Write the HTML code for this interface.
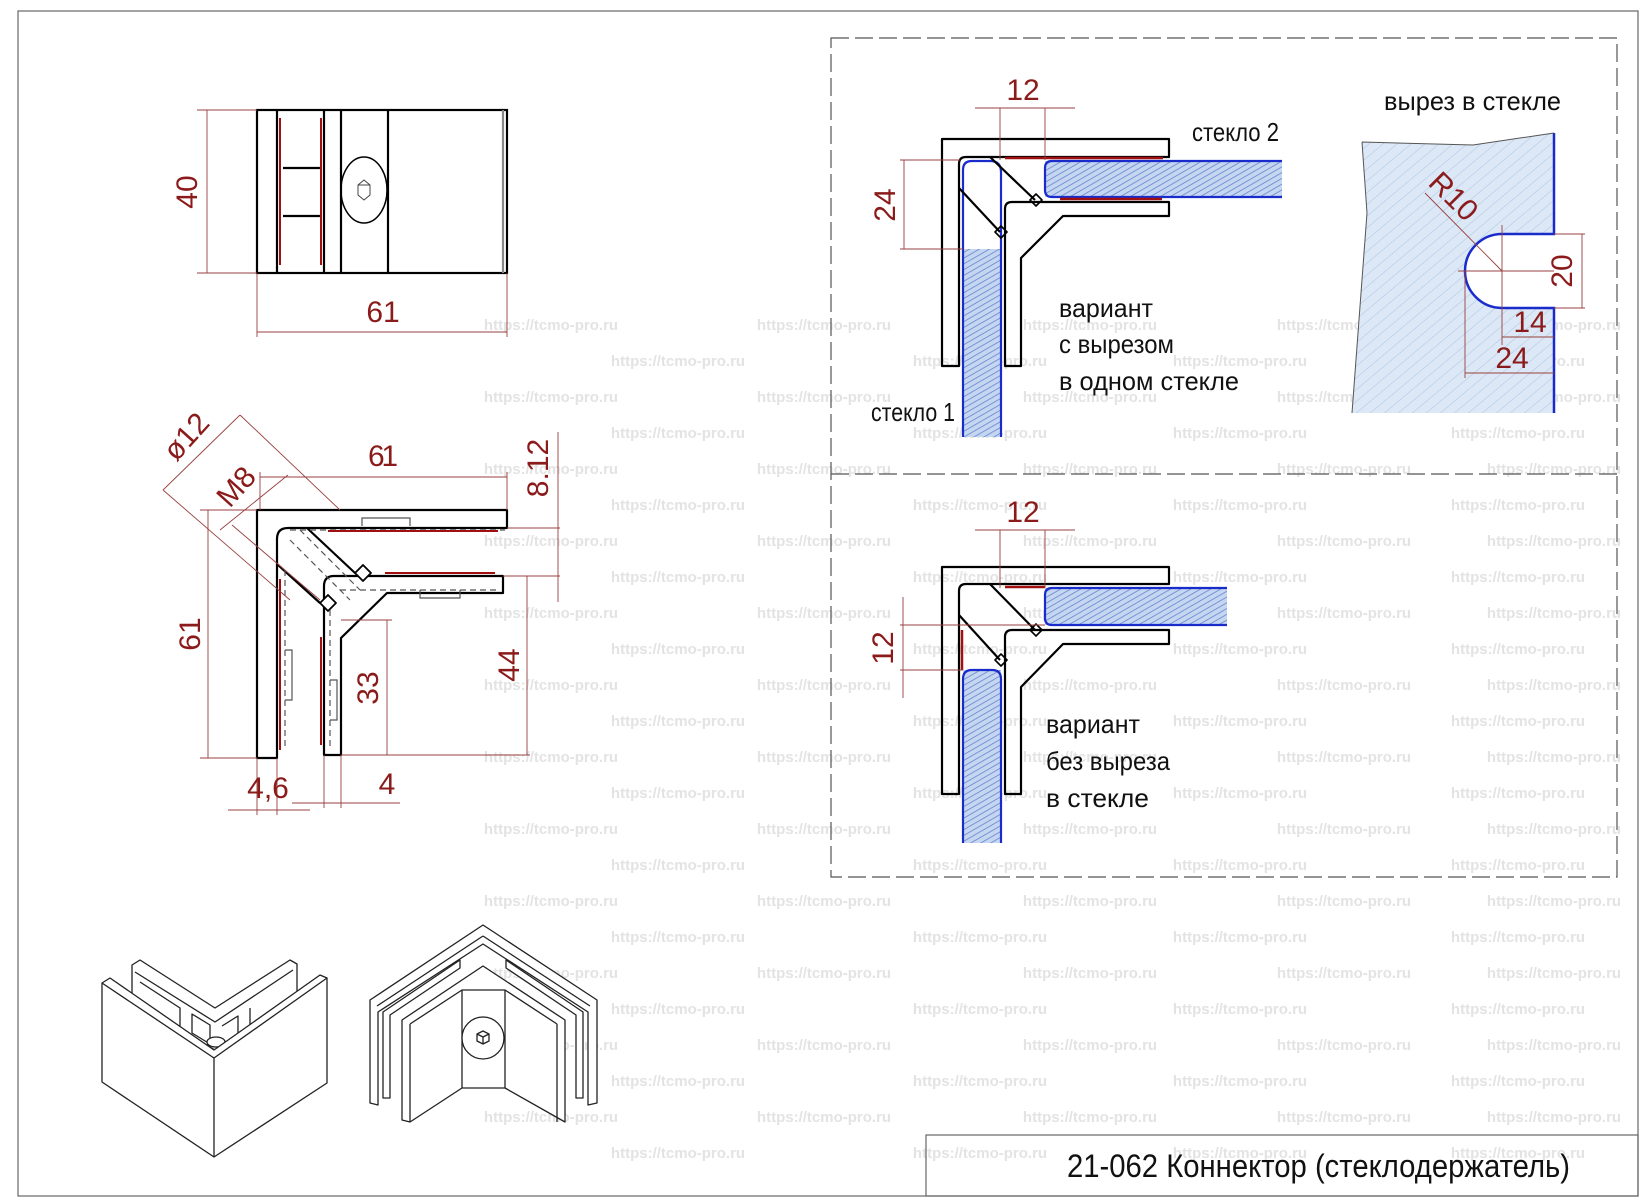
<!DOCTYPE html>
<html><head><meta charset="utf-8"><style>
html,body{margin:0;padding:0;background:#fff;}
svg{display:block;}
.t{font-family:"Liberation Sans Narrow","Liberation Sans","DejaVu Sans",sans-serif;}
.d{fill:#8b1a1a;font-family:"Liberation Sans Narrow","Liberation Sans",sans-serif;font-size:30px;}
.w{fill:#e3e3e3;font-family:"Liberation Sans",sans-serif;font-weight:bold;font-size:15px;}
</style></head><body>
<svg width="1649" height="1197" viewBox="0 0 1649 1197" xmlns="http://www.w3.org/2000/svg">
<defs>
<pattern id="h" patternUnits="userSpaceOnUse" width="5" height="5" patternTransform="rotate(60)">
<rect width="5" height="5" fill="#c6d6f0"/><line x1="0" y1="0" x2="0" y2="5" stroke="#5f86d0" stroke-width="1.6"/></pattern>
<pattern id="h2" patternUnits="userSpaceOnUse" width="9" height="9" patternTransform="rotate(50)">
<rect width="9" height="9" fill="#dce8f5"/><line x1="0" y1="0" x2="0" y2="9" stroke="#a9c4e6" stroke-width="1"/></pattern>
</defs>
<rect x="0" y="0" width="1649" height="1197" fill="#fff"/>
<rect x="18" y="11" width="1620" height="1185" fill="none" stroke="#666" stroke-width="1.2"/>

<g class="w" text-anchor="middle">
<g id="ra">
<text x="551" y="330">https://tcmo-pro.ru</text><text x="824" y="330">https://tcmo-pro.ru</text><text x="1090" y="330">https://tcmo-pro.ru</text><text x="1344" y="330">https://tcmo-pro.ru</text><text x="1554" y="330">https://tcmo-pro.ru</text>
<text x="678" y="366">https://tcmo-pro.ru</text><text x="980" y="366">https://tcmo-pro.ru</text><text x="1240" y="366">https://tcmo-pro.ru</text><text x="1518" y="366">https://tcmo-pro.ru</text>
</g>
<use href="#ra" y="72"/><use href="#ra" y="144"/><use href="#ra" y="216"/><use href="#ra" y="288"/><use href="#ra" y="360"/><use href="#ra" y="432"/><use href="#ra" y="504"/><use href="#ra" y="576"/><use href="#ra" y="648"/><use href="#ra" y="720"/><use href="#ra" y="792"/>
</g>

<g fill="none" stroke="#000" stroke-width="2.2">
<rect x="257" y="110" width="250" height="163" fill="#fff"/>
<line x1="277" y1="110" x2="277" y2="273"/><line x1="324" y1="110" x2="324" y2="273"/>
<line x1="341" y1="110" x2="341" y2="273"/><line x1="388" y1="110" x2="388" y2="273"/>
<line x1="503" y1="110" x2="503" y2="273" stroke="#888"/>
<line x1="283" y1="168" x2="320" y2="168"/><line x1="283" y1="216" x2="320" y2="216"/>
<ellipse cx="364" cy="190" rx="23" ry="33" stroke-width="1.5"/>
<path d="M364 180 l6 5 v10 l-6 5 l-6 -5 v-10z M358 185 h12" stroke-width="1" stroke="#444"/>
</g>
<g stroke="#a01010" stroke-width="2" fill="none"><path d="M280 118 V265 M321 118 V265"/></g>
<g stroke="#9a4040" stroke-width="0.9" fill="none">
<line x1="197" y1="110" x2="257" y2="110"/><line x1="197" y1="273" x2="257" y2="273"/>
<line x1="207" y1="110" x2="207" y2="273"/>
<line x1="257" y1="273" x2="257" y2="337"/><line x1="507" y1="273" x2="507" y2="337"/>
<line x1="257" y1="332" x2="507" y2="332"/>
</g>
<text class="d" x="197" y="192" text-anchor="middle" transform="rotate(-90 197 192)">40</text>
<text class="d" x="383" y="322" text-anchor="middle">61</text>

<g fill="#fff" stroke="#000" stroke-width="2.2" stroke-linejoin="round">
<path d="M257 510 H507 V528 H288 Q277 528 277 539 V758 H257 Z"/>
<path d="M277 564 L320 603 M307 528 L355 573" fill="none"/>
<path d="M324 755 V586 Q324 576 334 576 H503 V593 H387 L341 638 V755 Z"/>
<path d="M320 603 l8 -8 8 8 -8 8z M355 573 l8 -8 8 8 -8 8z" stroke-width="1.8"/>
</g>
<g stroke="#555" stroke-width="1.2" fill="none" stroke-dasharray="6 4">
<path d="M290 530 H505 M340 590 H500 M285 570 V750 M330 610 V750 M290 540 L350 600 M300 530 L360 590"/>
<path d="M362 526 V518 H410 V526 M420 590 V598 H460 V590 M285 650 H292 V700 H285 M330 680 H337 V720 H330" stroke-dasharray="none"/>
</g>
<g stroke="#a01010" stroke-width="2" fill="none"><path d="M328 531 H498 M385 573 H495 M280 579 V750 M321 637 V745"/></g>
<g stroke="#9a4040" stroke-width="0.9" fill="none">
<line x1="260" y1="477" x2="507" y2="477"/><line x1="260" y1="472" x2="260" y2="510"/><line x1="507" y1="472" x2="507" y2="510"/>
<line x1="200" y1="510" x2="257" y2="510"/><line x1="200" y1="758" x2="257" y2="758"/><line x1="208" y1="510" x2="208" y2="758"/>
<line x1="507" y1="528" x2="560" y2="528"/><line x1="503" y1="576" x2="560" y2="576"/><line x1="558" y1="432" x2="558" y2="602"/>
<line x1="341" y1="620" x2="392" y2="620"/><line x1="387" y1="620" x2="387" y2="755"/><line x1="341" y1="755" x2="530" y2="755"/>
<line x1="527" y1="576" x2="527" y2="755"/>
<line x1="257" y1="758" x2="257" y2="815"/><line x1="277" y1="758" x2="277" y2="815"/>
<line x1="228" y1="810" x2="310" y2="810"/>
<line x1="324" y1="755" x2="324" y2="808"/><line x1="341" y1="755" x2="341" y2="808"/>
<line x1="292" y1="803" x2="400" y2="803"/>
<line x1="163" y1="490" x2="240" y2="415"/><line x1="163" y1="490" x2="290" y2="600"/><line x1="240" y1="415" x2="340" y2="510"/>
<line x1="220" y1="530" x2="288" y2="475"/><line x1="232" y1="525" x2="320" y2="600"/>
</g>
<text class="d" x="383" y="466" text-anchor="middle" textLength="30">61</text>
<text class="d" x="200" y="634" text-anchor="middle" transform="rotate(-90 200 634)">61</text>
<text class="d" x="519" y="665" text-anchor="middle" transform="rotate(-90 519 665)">44</text>
<text class="d" x="378" y="688" text-anchor="middle" transform="rotate(-90 378 688)">33</text>
<text class="d" x="548" y="468" text-anchor="middle" transform="rotate(-90 548 468)">8.12</text>
<text class="d" x="268" y="798" text-anchor="middle">4,6</text>
<text class="d" x="387" y="794" text-anchor="middle">4</text>
<text class="d" x="190" y="445" text-anchor="middle" transform="rotate(-48 190 440)">ø12</text>
<text class="d" x="240" y="495" text-anchor="middle" transform="rotate(-48 240 490)">M8</text>

<g stroke="#555" stroke-width="1.2" fill="none" stroke-dasharray="18 6">
<rect x="831" y="38" width="786" height="839"/><line x1="831" y1="474" x2="1617" y2="474"/>
</g>

<rect x="963" y="249" width="38" height="188" fill="url(#h)"/>
<path d="M963 437 V170 Q963 161 972 161 H990 Q1001 161 1001 172 V437" fill="none" stroke="#1a2bcc" stroke-width="2.2"/>
<rect x="1045" y="161" width="237" height="36" fill="url(#h)"/>
<path d="M1282 161 H1052 Q1045 161 1045 168 V190 Q1045 197 1052 197 H1282" fill="none" stroke="#1a2bcc" stroke-width="2.2"/>
<g fill="none" stroke="#000" stroke-width="2.2" stroke-linejoin="round">
<path d="M942 139 H1169 V157 H966 Q959 157 959 164 V366 H942 Z"/>
<path d="M1005 366 V209 Q1005 202 1012 202 H1169 V216 H1063 L1021 258 V366 Z"/>
<path d="M990 157 L1035 200 M959 188 L1000 232"/>
<path d="M1030 200 l6 -6 6 6 -6 6z M995 232 l6 -6 6 6 -6 6z" stroke-width="1.6"/>
</g>
<g stroke="#a01010" stroke-width="2.5"><path d="M1005 158 H1163 M1060 199 H1162"/></g>
<g stroke="#9a4040" stroke-width="0.9" fill="none">
<path d="M975 108 H1075 M1000 108 V160 M1045 108 V160 M900 160 H960 M900 249 H963 M904 160 V249"/>
</g>
<text class="d" x="1023" y="100" text-anchor="middle">12</text>
<text class="d" x="895" y="205" text-anchor="middle" transform="rotate(-90 895 205)">24</text>
<g class="t" font-size="26" fill="#111">
<text x="1192" y="141" textLength="87" lengthAdjust="spacingAndGlyphs">стекло 2</text>
<text x="871" y="421" textLength="84" lengthAdjust="spacingAndGlyphs">стекло 1</text>
<text x="1059" y="317" textLength="94" lengthAdjust="spacingAndGlyphs">вариант</text>
<text x="1059" y="353" textLength="115" lengthAdjust="spacingAndGlyphs">с вырезом</text>
<text x="1059" y="390" textLength="180" lengthAdjust="spacingAndGlyphs">в одном стекле</text>
<text x="1384" y="110" textLength="177" lengthAdjust="spacingAndGlyphs">вырез в стекле</text>
<text x="1378" y="396" textLength="85" lengthAdjust="spacingAndGlyphs">стекло 1</text>
<text x="1046" y="733" textLength="94" lengthAdjust="spacingAndGlyphs">вариант</text>
<text x="1046" y="770" textLength="124" lengthAdjust="spacingAndGlyphs">без выреза</text>
<text x="1046" y="807" textLength="103" lengthAdjust="spacingAndGlyphs">в стекле</text>
</g>

<path d="M1362 142 L1473 145 L1554 133 V234 H1502 A37 37 0 0 0 1502 308 H1554 V413 H1352 L1367 213 Z" fill="url(#h2)"/>
<path d="M1554 133 V234 H1502 A37 37 0 0 0 1502 308 H1554 V413" fill="none" stroke="#1a2bcc" stroke-width="2.5"/>
<path d="M1362 142 L1473 145 L1554 133 M1362 142 L1367 213 L1352 413" fill="none" stroke="#555" stroke-width="1"/>
<g stroke="#9a4040" stroke-width="0.9" fill="none">
<path d="M1502 225 V345 M1458 271 H1554 M1554 234 H1585 M1554 308 H1585 M1582 234 V308 M1502 337 H1554 M1465 271 V378 M1465 373 H1554 M1425 193 L1502 271"/>
</g>
<text class="d" x="1572" y="271" text-anchor="middle" font-size="22" transform="rotate(-90 1572 271)">20</text>
<text class="d" x="1530" y="332" text-anchor="middle" font-size="22">14</text>
<text class="d" x="1512" y="368" text-anchor="middle" font-size="22">24</text>
<text class="d" x="1450" y="205" text-anchor="middle" font-size="22" transform="rotate(45 1450 200)">R10</text>

<rect x="963" y="670" width="38" height="173" fill="url(#h)"/>
<path d="M963 843 V679 Q963 670 972 670 H992 Q1001 670 1001 679 V843" fill="none" stroke="#1a2bcc" stroke-width="2.2"/>
<rect x="1045" y="588" width="182" height="37" fill="url(#h)"/>
<path d="M1227 588 H1052 Q1045 588 1045 595 V618 Q1045 625 1052 625 H1227" fill="none" stroke="#1a2bcc" stroke-width="2.2"/>
<g fill="none" stroke="#000" stroke-width="2.2" stroke-linejoin="round">
<path d="M942 567 H1169 V584 H966 Q959 584 959 591 V794 H942 Z"/>
<path d="M1005 794 V637 Q1005 630 1012 630 H1169 V644 H1063 L1021 687 V794 Z"/>
<path d="M990 584 L1035 630 M959 615 L1000 660"/>
<path d="M1030 630 l6 -6 6 6 -6 6z M995 660 l6 -6 6 6 -6 6z" stroke-width="1.6"/>
</g>
<g stroke="#a01010" stroke-width="2.5"><path d="M1005 587 H1045 M962 630 V670"/></g>
<g stroke="#9a4040" stroke-width="0.9" fill="none">
<path d="M975 530 H1075 M1000 530 V588 M1045 530 V588 M900 625 H1045 M900 670 H963 M903 597 V698"/>
</g>
<text class="d" x="1023" y="522" text-anchor="middle">12</text>
<text class="d" x="893" y="648" text-anchor="middle" transform="rotate(-90 893 648)">12</text>

<!-- isometric left -->
<g fill="#fff" stroke="#222" stroke-width="1.3" stroke-linejoin="round">
<path d="M132 965 L140 960 L215 1008 L290 960 L297 964 L297 1000 L215 1050 L132 1000 Z"/>
<path d="M135 972 L215 1022 L293 970 M140 982 L180 1008 L180 1030 M250 1008 L250 1030 L290 1004" fill="none"/>
<path d="M192 1014 L210 1025 L210 1044 L192 1033 Z"/>
<path d="M222 1026 L238 1016 L238 1038" fill="none"/>
<ellipse cx="216" cy="1042" rx="9" ry="5"/>
<path d="M102 983 L110 978 L214 1050 L320 975 L327 978 L327 1083 L214 1157 L102 1082 Z"/>
<path d="M102 983 L214 1058 L327 978 M214 1058 V1157" fill="none"/>
</g>
<!-- isometric right -->
<g fill="#fff" stroke="#222" stroke-width="1.3" stroke-linejoin="round">
<path d="M483 925 L597 1000 V1103 L588 1105 V1012 L483 944 L378 1012 V1105 L370 1103 V1000 Z"/>
<path d="M483 936 L590 1006 M483 936 L377 1006" fill="none"/>
<path d="M383 1012 V1098 L390 1098 V1015 L460 968 L460 960 Z M583 1012 V1098 L576 1098 V1015 L506 968 L506 960 Z"/>
<path d="M402 1020 L483 966 L565 1020 L565 1122 L505 1088 L462 1088 L410 1122 L402 1120 Z"/>
<path d="M410 1024 L462 990 L505 990 L557 1024 M410 1024 V1122 M557 1024 V1122 M462 990 V1088 M505 990 V1088" fill="none"/>
<circle cx="483" cy="1038" r="21"/>
<path d="M477 1034 l6 -3 6 3 v7 l-6 3 -6 -3z M477 1034 l6 3 6 -3 M483 1037 v7" fill="none"/>
</g>

<rect x="926" y="1135" width="712" height="61" fill="none" stroke="#666" stroke-width="1.2"/>
<text class="t" x="1067" y="1177" font-size="32" fill="#111" textLength="503" lengthAdjust="spacingAndGlyphs">21-062 Коннектор (стеклодержатель)</text>
</svg>
</body></html>
